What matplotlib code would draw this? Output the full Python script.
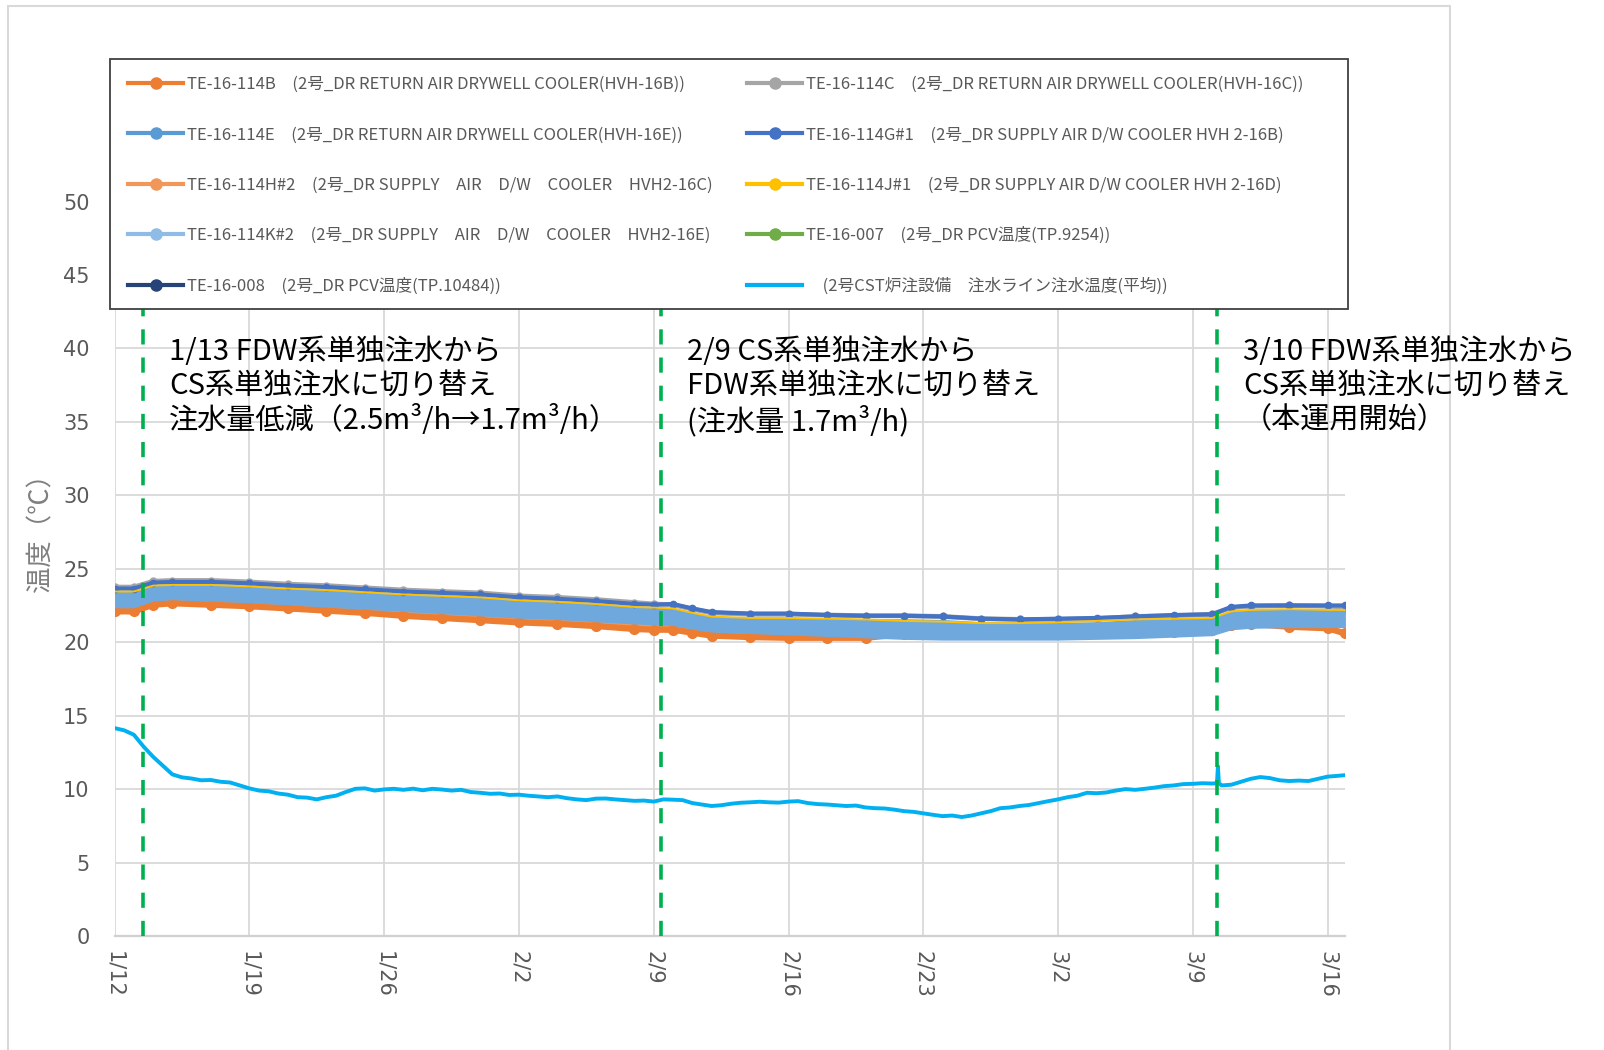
import matplotlib
matplotlib.use('Agg')
import matplotlib.pyplot as plt
from matplotlib.lines import Line2D
from matplotlib.patches import Rectangle

plt.rcParams['font.family'] = ['Noto Sans CJK JP', 'DejaVu Sans']

# x = days since 1/12
tick_days = [0, 7, 14, 21, 28, 35, 42, 49, 56, 63]
tick_labels = ['1/12', '1/19', '1/26', '2/2', '2/9', '2/16', '2/23', '3/2', '3/9', '3/16']

# switch events (1/13, 2/9, 3/10)
switch_days = [1.47, 28.4, 57.25]
switch_texts = [
    '1/13 FDW系単独注水から\nCS系単独注水に切り替え\n注水量低減（2.5m³/h→1.7m³/h）',
    '2/9 CS系単独注水から\nFDW系単独注水に切り替え\n(注水量 1.7m³/h)',
    '3/10 FDW系単独注水から\nCS系単独注水に切り替え\n（本運用開始）',
]

band_days = [0, 1, 2, 3, 5, 7, 9, 11, 13, 15, 17, 19, 21, 23, 25, 27,
             28, 29, 30, 31, 33, 35, 37, 39, 41, 43, 45, 47, 49, 51, 53, 55, 57,
             58, 59, 61, 63, 63.9]

te114c = [23.75, 23.75, 24.15, 24.2, 24.2, 24.1, 23.95, 23.85, 23.7, 23.55, 23.45, 23.35, 23.15, 23.05, 22.9, 22.7,
          22.6, 22.55, 22.25, 22.0, 21.9, 21.9, 21.85, 21.8, 21.8, 21.75, 21.6, 21.55, 21.55, 21.6, 21.75, 21.8, 21.9,
          22.35, 22.45, 22.5, 22.45, 22.4]
te114g1 = [23.65, 23.65, 24.05, 24.1, 24.1, 24.0, 23.85, 23.75, 23.6, 23.45, 23.35, 23.25, 23.05, 22.95, 22.8, 22.6,
           22.55, 22.6, 22.3, 22.05, 21.95, 21.95, 21.85, 21.8, 21.8, 21.75, 21.6, 21.55, 21.6, 21.65, 21.75, 21.85, 21.9,
           22.4, 22.5, 22.5, 22.5, 22.5]
te114j1 = [23.45, 23.45, 23.85, 23.9, 23.9, 23.8, 23.65, 23.55, 23.4, 23.25, 23.15, 23.05, 22.85, 22.75, 22.6, 22.4,
           22.35, 22.3, 22.0, 21.75, 21.65, 21.65, 21.6, 21.55, 21.45, 21.4, 21.3, 21.3, 21.35, 21.45, 21.55, 21.6, 21.65,
           22.1, 22.2, 22.25, 22.2, 22.2]
te114e_hi = [23.55, 23.55, 23.95, 24.0, 24.0, 23.9, 23.75, 23.65, 23.5, 23.35, 23.25, 23.15, 22.95, 22.85, 22.7, 22.5,
             22.4, 22.35, 22.05, 21.8, 21.7, 21.7, 21.65, 21.6, 21.6, 21.55, 21.4, 21.35, 21.35, 21.4, 21.55, 21.6, 21.7,
             22.15, 22.25, 22.3, 22.25, 22.2]
te114e_lo = [22.45, 22.45, 22.9, 23.0, 22.9, 22.8, 22.65, 22.5, 22.35, 22.2, 22.05, 21.9, 21.75, 21.65, 21.5, 21.35,
             21.3, 21.25, 21.0, 20.8, 20.7, 20.6, 20.5, 20.4, 20.3, 20.25, 20.25, 20.25, 20.25, 20.3, 20.35, 20.45, 20.55,
             20.95, 21.05, 21.1, 21.1, 21.1]
te114b = [22.1, 22.1, 22.55, 22.65, 22.55, 22.45, 22.3, 22.15, 22.0, 21.8, 21.65, 21.5, 21.35, 21.25, 21.1, 20.9,
          20.85, 20.85, 20.65, 20.45, 20.35, 20.3, 20.3, 20.3, 20.55, 20.6, 20.6, 20.55, 20.6, 20.6, 20.65, 20.7, 20.8,
          21.15, 21.25, 21.05, 20.95, 20.6]
te114h2 = [22.3, 22.3, 22.75, 22.8, 22.75, 22.65, 22.5, 22.35, 22.2, 22.0, 21.85, 21.7, 21.55, 21.45, 21.3, 21.1,
           21.05, 21.0, 20.8, 20.6, 20.45, 20.4, 20.45, 20.5, 20.6, 20.65, 20.65, 20.6, 20.65, 20.65, 20.7, 20.75, 20.85,
           21.2, 21.3, 21.3, 21.3, 21.3]
te114k2 = [22.9, 22.9, 23.35, 23.45, 23.4, 23.3, 23.15, 23.05, 22.9, 22.75, 22.65, 22.5, 22.35, 22.25, 22.1, 21.9,
           21.85, 21.8, 21.5, 21.3, 21.2, 21.15, 21.1, 21.0, 20.95, 20.9, 20.8, 20.8, 20.8, 20.85, 20.95, 21.0, 21.1,
           21.55, 21.65, 21.7, 21.7, 21.65]
te16_007 = [23.1, 23.1, 23.55, 23.6, 23.6, 23.5, 23.35, 23.25, 23.1, 22.95, 22.85, 22.7, 22.55, 22.45, 22.3, 22.1,
            22.05, 22.0, 21.7, 21.5, 21.4, 21.35, 21.3, 21.2, 21.15, 21.1, 21.0, 20.95, 20.95, 21.0, 21.1, 21.2, 21.3,
            21.75, 21.85, 21.9, 21.9, 21.85]
te16_008 = [22.7, 22.7, 23.15, 23.25, 23.2, 23.1, 22.95, 22.8, 22.65, 22.5, 22.4, 22.25, 22.1, 22.0, 21.85, 21.7,
            21.6, 21.55, 21.3, 21.1, 21.0, 20.95, 20.85, 20.75, 20.7, 20.65, 20.6, 20.6, 20.6, 20.65, 20.7, 20.8, 20.9,
            21.35, 21.45, 21.5, 21.5, 21.45]

# CST injection water temperature (average)
cst_days = [0, 0.5, 1, 1.5, 2, 2.5, 3, 3.5, 4, 4.5,
            5, 5.5, 6, 6.5, 7, 7.5, 8, 8.5, 9, 9.5,
            10, 10.5, 11, 11.5, 12, 12.5, 13, 13.5, 14, 14.5,
            15, 15.5, 16, 16.5, 17, 17.5, 18, 18.5, 19, 19.5,
            20, 20.5, 21, 21.5, 22, 22.5, 23, 23.5, 24, 24.5,
            25, 25.5, 26, 26.5, 27, 27.5, 28, 28.5, 29, 29.5,
            30, 30.5, 31, 31.5, 32, 32.5, 33, 33.5, 34, 34.5,
            35, 35.5, 36, 36.5, 37, 37.5, 38, 38.5, 39, 39.5,
            40, 40.5, 41, 41.5, 42, 42.5, 43, 43.5, 44, 44.5,
            45, 45.5, 46, 46.5, 47, 47.5, 48, 48.5, 49, 49.5,
            50, 50.5, 51, 51.5, 52, 52.5, 53, 53.5, 54, 54.5,
            55, 55.5, 56, 56.5, 57, 57.25, 57.3, 57.35, 57.5, 58,
            58.5, 59, 59.5, 60, 60.5, 61, 61.5, 62, 62.5, 63,
            63.5, 63.9]
cst_vals = [14.15, 14.0, 13.7, 12.9, 12.2, 11.6, 11.0, 10.8, 10.72, 10.6,
            10.62, 10.5, 10.45, 10.25, 10.05, 9.9, 9.85, 9.7, 9.62, 9.45,
            9.42, 9.3, 9.45, 9.55, 9.8, 10.02, 10.05, 9.9, 9.98, 10.02,
            9.95, 10.03, 9.92, 10.02, 9.97, 9.9, 9.95, 9.8, 9.75, 9.68,
            9.7, 9.6, 9.62, 9.55, 9.5, 9.45, 9.5, 9.38, 9.3, 9.25,
            9.35, 9.36, 9.3, 9.25, 9.2, 9.22, 9.15, 9.3, 9.28, 9.25,
            9.05, 8.95, 8.85, 8.9, 9.0, 9.07, 9.1, 9.14, 9.1, 9.08,
            9.15, 9.18, 9.05, 8.98, 8.95, 8.9, 8.85, 8.88, 8.75, 8.7,
            8.68, 8.6, 8.5, 8.45, 8.35, 8.25, 8.16, 8.2, 8.1, 8.2,
            8.35, 8.5, 8.7, 8.75, 8.85, 8.92, 9.05, 9.18, 9.3, 9.45,
            9.55, 9.75, 9.72, 9.77, 9.9, 10.0, 9.95, 10.02, 10.1, 10.2,
            10.25, 10.34, 10.36, 10.4, 10.38, 10.4, 11.55, 10.4, 10.25, 10.3,
            10.5, 10.7, 10.82, 10.75, 10.6, 10.55, 10.58, 10.55, 10.7, 10.85,
            10.9, 10.95]

col = {'114B': '#ED7D31', '114C': '#A5A5A5', '114E': '#5B9BD5', '114G1': '#4472C4',
       '114H2': '#F1975A', '114J1': '#FFC000', '007': '#70AD47', '114K2': '#8FBCE6',
       '008': '#264478', 'cst': '#00B0F0'}

legend_left = [
    ('114B', 'TE-16-114B\u3000(2号_DR RETURN AIR DRYWELL COOLER(HVH-16B))'),
    ('114E', 'TE-16-114E\u3000(2号_DR RETURN AIR DRYWELL COOLER(HVH-16E))'),
    ('114H2', 'TE-16-114H#2\u3000(2号_DR SUPPLY\u3000AIR\u3000D/W\u3000COOLER\u3000HVH2-16C)'),
    ('114K2', 'TE-16-114K#2\u3000(2号_DR SUPPLY\u3000AIR\u3000D/W\u3000COOLER\u3000HVH2-16E)'),
    ('008', 'TE-16-008\u3000(2号_DR PCV温度(TP.10484))'),
]
legend_right = [
    ('114C', 'TE-16-114C\u3000(2号_DR RETURN AIR DRYWELL COOLER(HVH-16C))'),
    ('114G1', 'TE-16-114G#1\u3000(2号_DR SUPPLY AIR D/W COOLER HVH 2-16B)'),
    ('114J1', 'TE-16-114J#1\u3000(2号_DR SUPPLY AIR D/W COOLER HVH 2-16D)'),
    ('007', 'TE-16-007\u3000(2号_DR PCV温度(TP.9254))'),
    ('cst', '\u3000(2号CST炉注設備\u3000注水ライン注水温度(平均))'),
]

W, H = 1604, 1050
fig = plt.figure(figsize=(W / 100, H / 100), dpi=100)
ax = fig.add_axes([114.6 / W, 1 - 936 / H, (1345 - 114.6) / W, (936 - 201.5) / H])

# outer chart frame
fig.add_artist(Rectangle((8 / W, -0.01), (1450 - 8) / W, 1.01 - 6 / H, transform=fig.transFigure,
                         fill=False, edgecolor='#D9D9D9', lw=1.5, zorder=0))

# hidden / lower series first
for key, vals in [('008', te16_008), ('007', te16_007), ('114K2', te114k2)]:
    ax.plot(band_days, vals, color=col[key], lw=3, marker='o', ms=6, zorder=2)
ax.plot(band_days, te114h2, color=col['114H2'], lw=4.5, marker='o', ms=6, zorder=2)
ax.plot(band_days, te114b, color=col['114B'], lw=4.5, marker='o', ms=7, zorder=2)
ax.fill_between(band_days, te114e_lo, te114e_hi, color='#6FA8DC', lw=0, zorder=3)
ax.plot(band_days, te114e_lo, color='#6FA8DC', lw=3, zorder=3)
ax.plot(band_days, te114c, color=col['114C'], lw=3.5, marker='o', ms=5, zorder=4)
ax.plot(band_days, te114g1, color=col['114G1'], lw=3, marker='o', ms=4.5, zorder=4)
ax.plot(band_days, te114j1, color=col['114J1'], lw=1.4, zorder=4.5)
ax.plot(cst_days, cst_vals, color=col['cst'], lw=2.8, zorder=5)

for d in switch_days:
    ax.axvline(d, color='#00B050', lw=2.6, dashes=(4.2, 3.6), zorder=6)

for d, txt in zip([2.82, 29.72, 58.6], switch_texts):
    ax.text(d, 40.75, txt, fontsize=21, va='top', ha='left', linespacing=1.17, zorder=7, clip_on=False)

ax.set_xlim(0, 63.9)
ax.set_ylim(0, 50)
ax.set_xticks(tick_days)
ax.set_xticklabels(tick_labels, rotation=270, fontfamily='DejaVu Sans')
ax.set_yticks(range(0, 51, 5))
ax.set_yticklabels([str(v) for v in range(0, 51, 5)], fontfamily='DejaVu Sans')
ax.tick_params(axis='both', length=0, labelsize=15, labelcolor='#595959')
ax.tick_params(axis='y', pad=18)
ax.tick_params(axis='x', pad=11)
ax.grid(color='#D9D9D9', lw=1.3)
ax.set_axisbelow(True)
for s in ['top', 'right', 'left']:
    ax.spines[s].set_visible(False)
ax.spines['bottom'].set_color('#D0D0D0')
ax.spines['bottom'].set_linewidth(1.6)

fig.text(41 / W, 1 - 526 / H, '温度（℃）', rotation=90, ha='center', va='center', fontsize=19, color='#7F7F7F')

# legend box
fig.add_artist(Rectangle((110 / W, 1 - 309 / H), 1238 / W, 250 / H, transform=fig.transFigure,
                         facecolor='white', edgecolor='#404040', lw=1.3, zorder=8))


def handles(items):
    hs = []
    for key, lab in items:
        if key == 'cst':
            hs.append(Line2D([], [], color=col[key], lw=3))
        else:
            hs.append(Line2D([], [], color=col[key], lw=3, marker='o', ms=8))
    return hs


for items, x0 in [(legend_left, 128), (legend_right, 747)]:
    lg = fig.legend(handles(items), [lab for k, lab in items], loc='upper left',
                    bbox_to_anchor=(x0 / W, 1 - 76 / H), bbox_transform=fig.transFigure,
                    frameon=False, fontsize=12, handlelength=3.3, handletextpad=0.25,
                    labelspacing=2.0, borderpad=0, borderaxespad=0, labelcolor='#595959')
    lg.set_zorder(9)

fig.savefig('out.png', dpi=100)
